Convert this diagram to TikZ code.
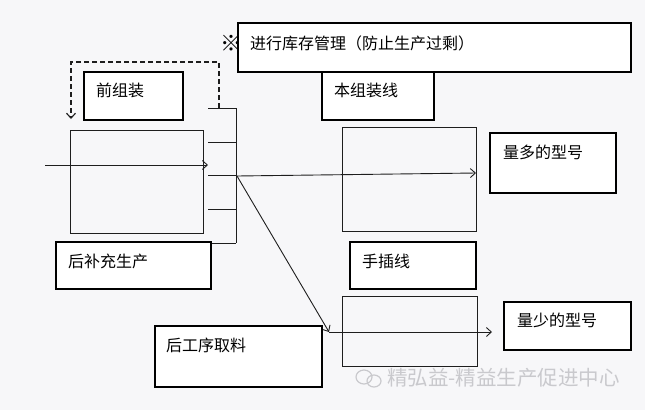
\documentclass[tikz,border=0pt]{standalone}
\usepackage{fontspec}
\newfontfamily\cjk{Noto Sans CJK SC}
\usetikzlibrary{arrows.meta}
\definecolor{ink}{HTML}{1E1E1E}
\definecolor{wm}{HTML}{C9C9CD}
\definecolor{bg}{HTML}{F7F7F9}
\begin{document}
\begin{tikzpicture}[x=1pt,y=-1pt,
  box/.style={draw=black,line width=1.1pt,fill=white},
  frame/.style={draw=ink,line width=1pt},
  lbl/.style={anchor=west,inner sep=0pt,font=\cjk\fontsize{16}{19}\selectfont,text=black},
  conn/.style={draw=ink,line width=0.9pt},
  tip/.style={-{Straight Barb[length=5pt,width=9pt]}}]
\fill[bg] (0,0) rectangle (645,410);
\useasboundingbox (0,0) rectangle (645,410);
% background frames
\path[frame] (70,130) rectangle (203,233);
\path[frame] (342,127) rectangle (476,231);
\path[frame] (342,296) rectangle (477,366);
% ladder
\coordinate (r1l) at (208,108); \coordinate (r1r) at (236,108);
\coordinate (r2l) at (208,142); \coordinate (r2r) at (236,142);
\coordinate (r3l) at (208,175); \coordinate (r3r) at (236,175);
\coordinate (r4l) at (208,209); \coordinate (r4r) at (236,209);
\coordinate (r5l) at (205,243); \coordinate (r5r) at (236,243);
\draw[conn] (r1r) -- (r5r);
\foreach \i in {1,...,5} \draw[conn] (r\i l) -- (r\i r);
% dashed feedback
\coordinate (d0) at (219,108);
\coordinate (d1) at (219,62);
\coordinate (d2) at (71,62);
\coordinate (d3) at (71,119);
\draw[conn,dashed,dash pattern=on 5pt off 3pt,line width=1.1pt,tip] (d0) -- (d1) -- (d2) -- (d3);
% incoming arrow
\coordinate (in0) at (45,165);
\coordinate (in1) at (208,165);
\draw[conn,tip] (in0) -- (in1);
% outgoing
\coordinate (o0) at (237,176);
\coordinate (o1) at (476,173);
\coordinate (o2) at (329,332);
\coordinate (o3) at (492,332);
\draw[conn,tip] (o0) -- (o1);
\draw[conn,tip] (o0) -- (o2);
\draw[conn,tip] (o2) -- (o3);
% label boxes
\path[box] (322,60) rectangle (434,120); \node[lbl] (benzu) at (334,90) {本组装线};
\path[box] (238,23) rectangle (631,72); \node[lbl] (kucun) at (250,43) {进行库存管理（防止生产过剩）};
\node[lbl,font=\cjk\fontsize{22}{24}\selectfont] (mark) at (220,43) {※};
\path[box] (84,72) rectangle (183,120); \node[lbl] (qianzu) at (96,90) {前组装};
\path[box] (490,133) rectangle (616,193); \node[lbl] (liangduo) at (503,152) {量多的型号};
\path[box] (56,242) rectangle (211,289); \node[lbl] (houbu) at (68,261) {后补充生产};
\path[box] (350,242) rectangle (476,289); \node[lbl] (shoucha) at (362,261) {手插线};
\path[box] (504,302) rectangle (631,350); \node[lbl] (liangshao) at (517,320) {量少的型号};
\path[box] (155,326) rectangle (322,387); \node[lbl] (hougong) at (166,345) {后工序取料};
% watermark
\draw[wm,line width=1.2pt] (364,377) ellipse (8pt and 7pt);
\draw[wm,line width=1.2pt] (374,381) ellipse (7pt and 6pt);
\node[anchor=west,inner sep=0pt,text=wm,font=\cjk\fontsize{20.5}{23}\selectfont] (wmark) at (387,378) {精弘益-精益生产促进中心};
\end{tikzpicture}
\end{document}
